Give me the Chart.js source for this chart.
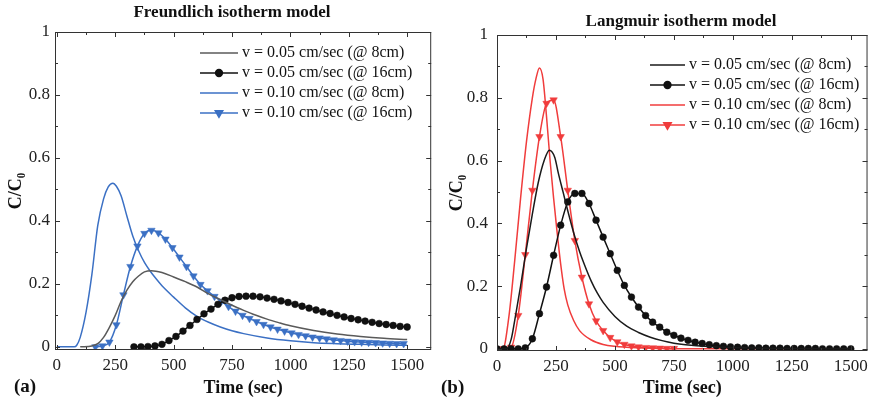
<!DOCTYPE html>
<html>
<head>
<meta charset="utf-8">
<script src="https://cdn.jsdelivr.net/npm/chart.js@4.4.1/dist/chart.umd.min.js"></script>
<style>
  body { margin: 0; background: #fff; width: 873px; height: 403px; overflow: hidden; position: relative; }
  canvas { position: absolute; top: 0; }
</style>
</head>
<body>
<canvas id="freundlich" width="436" height="403" style="left:0"></canvas>
<canvas id="langmuir" width="437" height="403" style="left:436px"></canvas>
<script>
// axis ticks shared by both panels
const xTicks = [0, 250, 500, 750, 1000, 1250, 1500];
const yTicks = [0, 0.2, 0.4, 0.6, 0.8, 1];
const seriesLabels = [
  'v = 0.05 cm/sec (@ 8cm)',
  'v = 0.05 cm/sec (@ 16cm)',
  'v = 0.10 cm/sec (@ 8cm)',
  'v = 0.10 cm/sec (@ 16cm)'
];

// (a) Freundlich isotherm model
const frSlow8X = [100, 150, 175, 200, 225, 250, 275, 300, 325, 350, 375, 405, 450, 500, 550, 600, 650, 700, 750, 800, 850, 900, 950, 1000, 1100, 1200, 1300, 1400, 1500];
const frSlow8Y = [0, 0.003, 0.01, 0.03, 0.062, 0.1, 0.145, 0.18, 0.207, 0.225, 0.238, 0.242, 0.236, 0.222, 0.207, 0.19, 0.168, 0.15, 0.132, 0.116, 0.101, 0.088, 0.077, 0.067, 0.052, 0.041, 0.033, 0.027, 0.023];

const frSlow16X = [330, 360, 390, 420, 450, 480, 510, 540, 570, 600, 630, 660, 690, 720, 750, 780, 810, 840, 870, 900, 930, 960, 990, 1020, 1050, 1080, 1110, 1140, 1170, 1200, 1230, 1260, 1290, 1320, 1350, 1380, 1410, 1440, 1470, 1500];
const frSlow16Y = [0, 0, 0.001, 0.003, 0.008, 0.02, 0.033, 0.05, 0.068, 0.087, 0.105, 0.12, 0.135, 0.148, 0.156, 0.16, 0.161, 0.161, 0.159, 0.155, 0.151, 0.146, 0.141, 0.135, 0.129, 0.123, 0.117, 0.111, 0.106, 0.1, 0.095, 0.09, 0.086, 0.082, 0.078, 0.074, 0.071, 0.068, 0.065, 0.063];

const frFast8X = [0, 75, 85, 100, 125, 150, 175, 200, 220, 240, 255, 275, 300, 325, 350, 375, 400, 425, 450, 500, 550, 600, 650, 700, 750, 800, 900, 1000, 1100, 1200, 1300, 1400, 1500];
const frFast8Y = [0, 0, 0.005, 0.03, 0.11, 0.23, 0.385, 0.47, 0.508, 0.52, 0.51, 0.48, 0.415, 0.352, 0.305, 0.268, 0.24, 0.216, 0.194, 0.158, 0.124, 0.097, 0.078, 0.063, 0.051, 0.042, 0.028, 0.019, 0.013, 0.01, 0.008, 0.006, 0.005];

const frFast16X = [165, 195, 225, 255, 285, 315, 345, 375, 405, 435, 465, 495, 525, 555, 585, 615, 645, 675, 705, 735, 765, 795, 825, 855, 885, 915, 945, 975, 1005, 1035, 1065, 1095, 1125, 1155, 1185, 1215, 1245, 1275, 1305, 1335, 1365, 1395, 1425, 1455, 1485];
const frFast16Y = [0, 0.003, 0.015, 0.07, 0.165, 0.255, 0.32, 0.36, 0.37, 0.362, 0.342, 0.315, 0.285, 0.255, 0.225, 0.198, 0.178, 0.16, 0.145, 0.128, 0.113, 0.1, 0.09, 0.08, 0.071, 0.063, 0.056, 0.05, 0.044, 0.039, 0.035, 0.031, 0.028, 0.025, 0.022, 0.02, 0.018, 0.016, 0.015, 0.014, 0.013, 0.012, 0.011, 0.01, 0.01];

// (b) Langmuir isotherm model
const laSlow8X = [0, 40, 60, 75, 100, 125, 150, 175, 200, 222, 245, 260, 280, 300, 325, 350, 375, 400, 425, 450, 500, 550, 600, 650, 700, 750, 800, 900, 1000, 1200, 1500];
const laSlow8Y = [0, 0, 0.03, 0.09, 0.2, 0.32, 0.43, 0.53, 0.6, 0.633, 0.61, 0.56, 0.5, 0.44, 0.37, 0.31, 0.26, 0.215, 0.178, 0.148, 0.103, 0.072, 0.052, 0.037, 0.026, 0.018, 0.013, 0.007, 0.004, 0.001, 0];

const laSlow16X = [0, 30, 60, 90, 120, 150, 180, 210, 240, 270, 300, 330, 360, 390, 420, 450, 480, 510, 540, 570, 600, 630, 660, 690, 720, 750, 780, 810, 840, 870, 900, 930, 960, 990, 1020, 1050, 1080, 1110, 1140, 1170, 1200, 1230, 1260, 1290, 1320, 1350, 1380, 1410, 1440, 1470, 1500];
const laSlow16Y = [0, 0, 0, 0, 0.003, 0.032, 0.112, 0.197, 0.298, 0.394, 0.468, 0.495, 0.495, 0.463, 0.41, 0.356, 0.303, 0.25, 0.202, 0.165, 0.133, 0.106, 0.085, 0.069, 0.053, 0.043, 0.034, 0.027, 0.021, 0.017, 0.013, 0.01, 0.008, 0.006, 0.005, 0.004, 0.003, 0.003, 0.002, 0.002, 0.002, 0.001, 0.001, 0.001, 0.001, 0.001, 0, 0, 0, 0, 0];

const laFast8X = [0, 25, 50, 75, 100, 125, 150, 165, 180, 195, 210, 225, 240, 255, 270, 285, 300, 325, 350, 400, 450, 500, 600, 700, 800, 1000, 1500];
const laFast8Y = [0, 0, 0.1, 0.28, 0.48, 0.66, 0.8, 0.86, 0.895, 0.86, 0.74, 0.6, 0.48, 0.37, 0.27, 0.19, 0.14, 0.09, 0.058, 0.028, 0.014, 0.008, 0.003, 0.001, 0, 0, 0];

const laFast16X = [0, 30, 60, 90, 120, 150, 180, 210, 240, 270, 300, 330, 360, 390, 420, 450, 480, 510, 540, 570, 600, 630, 660, 690, 720, 750];
const laFast16Y = [0, 0, 0.005, 0.106, 0.3, 0.505, 0.676, 0.782, 0.793, 0.676, 0.505, 0.345, 0.228, 0.143, 0.089, 0.058, 0.036, 0.022, 0.014, 0.009, 0.006, 0.004, 0.003, 0.002, 0.001, 0.001];

const serif = '"Liberation Serif", "Times New Roman", serif';

function series(label, xs, ys, color, marker) {
  return {
    label: label,
    data: xs.map((x, i) => ({ x: x, y: ys[i] })),
    borderColor: color,
    backgroundColor: color,
    borderWidth: 1.5,
    cubicInterpolationMode: 'monotone',
    pointStyle: marker || 'circle',
    pointRotation: marker === 'triangle' ? 180 : 0,
    pointRadius: marker ? (marker === 'triangle' ? 4.3 : 3.4) : 0,
    pointBorderWidth: 0.5,
    pointHoverRadius: 0
  };
}

// frame, inward ticks, title, panel tag and legend
const panelPlugin = {
  id: 'panel',
  afterDatasetsDraw(chart, args, opts) {
    const ctx = chart.ctx, a = chart.chartArea;
    const x = chart.scales.x, y = chart.scales.y;
    ctx.save();
    ctx.strokeStyle = '#333';
    ctx.lineWidth = 1;
    ctx.strokeRect(a.left + 0.5, a.top + 0.5, a.right - a.left - 1, a.bottom - a.top - 1);
    ctx.beginPath();
    xTicks.forEach(v => {
      [[v, 5], [v + 125, 3]].forEach(([t, len]) => {
        if (t > x.max) return;
        const p = Math.round(x.getPixelForValue(t)) + 0.5;
        ctx.moveTo(p, a.bottom); ctx.lineTo(p, a.bottom - len);
        ctx.moveTo(p, a.top); ctx.lineTo(p, a.top + len);
      });
    });
    yTicks.forEach(v => {
      [[v, 5], [v + 0.1, 3]].forEach(([t, len]) => {
        if (t > y.max + 0.001) return;
        const p = Math.round(y.getPixelForValue(t)) + 0.5;
        ctx.moveTo(a.left, p); ctx.lineTo(a.left + len, p);
        ctx.moveTo(a.right, p); ctx.lineTo(a.right - len, p);
      });
    });
    ctx.stroke();

    ctx.fillStyle = '#111';
    ctx.textBaseline = 'middle';
    ctx.textAlign = 'center';
    ctx.font = 'bold 17px ' + serif;
    ctx.fillText(opts.title, opts.titleX, opts.titleY);
    ctx.textAlign = 'left';
    ctx.font = 'bold 19px ' + serif;
    ctx.fillText(opts.tag, opts.tagX, opts.tagY);

    // legend: line sample with marker, then label
    ctx.font = '16px ' + serif;
    chart.data.datasets.forEach((ds, i) => {
      const ly = opts.legendY + i * opts.legendGap;
      ctx.strokeStyle = ds.borderColor;
      ctx.fillStyle = ds.backgroundColor;
      ctx.lineWidth = ds.borderWidth;
      ctx.beginPath();
      ctx.moveTo(opts.legendX, ly);
      ctx.lineTo(opts.legendX + opts.legendLen, ly);
      ctx.stroke();
      if (ds.pointRadius > 0) {
        Chart.helpers.drawPoint(ctx, {
          pointStyle: ds.pointStyle, rotation: ds.pointRotation,
          radius: ds.pointRadius, borderWidth: ds.pointBorderWidth
        }, opts.legendX + opts.legendLen / 2, ly);
      }
      ctx.fillStyle = '#111';
      ctx.fillText(ds.label, opts.legendX + opts.legendLen + 4, ly);
    });
    ctx.restore();
  }
};

function makeChart(id, datasets, cfg) {
  return new Chart(document.getElementById(id), {
    type: 'line',
    data: { datasets: datasets },
    plugins: [panelPlugin],
    options: {
      responsive: false,
      animation: false,
      layout: { padding: { top: cfg.top, right: cfg.right, left: 0, bottom: 0 } },
      plugins: {
        legend: { display: false },
        tooltip: { enabled: false },
        panel: cfg.panel
      },
      scales: {
        x: {
          type: 'linear',
          min: cfg.xMin, max: cfg.xMax,
          afterBuildTicks: s => { s.ticks = xTicks.map(v => ({ value: v })); },
          afterFit: s => { s.height = cfg.xHeight; },
          grid: { display: false, drawTicks: false },
          border: { display: false },
          ticks: { color: '#222', padding: 5, maxRotation: 0, font: { family: serif, size: 17 }, callback: v => String(v) },
          title: { display: true, text: 'Time (sec)', color: '#111', padding: { top: 0, bottom: 4 }, font: { family: serif, size: 18, weight: 'bold' } }
        },
        y: {
          min: cfg.yMin, max: 1,
          afterBuildTicks: s => { s.ticks = yTicks.map(v => ({ value: v })); },
          afterFit: s => { s.width = cfg.yWidth; },
          grid: { display: false, drawTicks: false },
          border: { display: false },
          ticks: { color: '#222', padding: cfg.yPad, font: { family: serif, size: 17 }, callback: v => String(v) },
          title: { display: true, text: 'C/C₀', color: '#111', padding: { top: cfg.yTitlePad, bottom: 0 }, font: { family: serif, size: 18, weight: 'bold' } }
        }
      }
    }
  });
}

makeChart('freundlich', [
  series(seriesLabels[0], frSlow8X, frSlow8Y, '#5a5a5a'),
  series(seriesLabels[1], frSlow16X, frSlow16Y, '#111111', 'circle'),
  series(seriesLabels[2], frFast8X, frFast8Y, '#3b70c4'),
  series(seriesLabels[3], frFast16X, frFast16Y, '#3b70c4', 'triangle')
], {
  top: 32, right: 4, xMin: -8, xMax: 1603, yMin: -0.01,
  xHeight: 53, yWidth: 55, yPad: 5, yTitlePad: 6,
  panel: {
    title: 'Freundlich isotherm model', titleX: 232, titleY: 13,
    tag: '(a)', tagX: 14, tagY: 387,
    legendX: 200, legendY: 53, legendGap: 20, legendLen: 38
  }
});

makeChart('langmuir', [
  series(seriesLabels[0], laSlow8X, laSlow8Y, '#1a1a1a'),
  series(seriesLabels[1], laSlow16X, laSlow16Y, '#111111', 'circle'),
  series(seriesLabels[2], laFast8X, laFast8Y, '#f03c3c'),
  series(seriesLabels[3], laFast16X, laFast16Y, '#f03c3c', 'triangle')
], {
  top: 35, right: 2, xMin: 0, xMax: 1571, yMin: -0.007,
  xHeight: 52, yWidth: 61, yPad: 9, yTitlePad: 11,
  panel: {
    title: 'Langmuir isotherm model', titleX: 245, titleY: 22,
    tag: '(b)', tagX: 5, tagY: 388,
    legendX: 214, legendY: 65, legendGap: 20, legendLen: 35
  }
});
</script>
</body>
</html>
